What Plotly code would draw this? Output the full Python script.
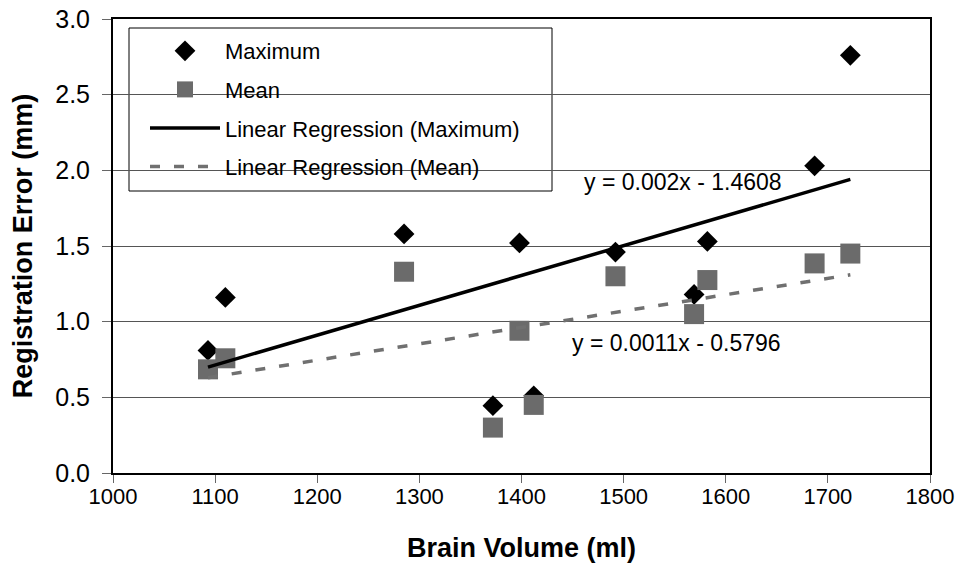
import plotly.graph_objects as go

# Data
brain_volume = [1093, 1110, 1285, 1372, 1398, 1412, 1492, 1569, 1582, 1687, 1722]
max_error = [0.81, 1.16, 1.58, 0.445, 1.52, 0.51, 1.46, 1.18, 1.53, 2.03, 2.76]
mean_error = [0.685, 0.758, 1.33, 0.30, 0.94, 0.45, 1.30, 1.05, 1.275, 1.385, 1.45]

# Trendline end points (as drawn in the chart)
reg_x = [1093, 1722]
reg_max_y = [0.70, 1.94]
reg_mean_y = [0.63, 1.31]

eq_max_label = "y = 0.002x - 1.4608"
eq_mean_label = "y = 0.0011x - 0.5796"
eq_max_pos = (1459, 1.92)
eq_mean_pos = (1447, 0.857)

x_ticks = [1000, 1100, 1200, 1300, 1400, 1500, 1600, 1700, 1800]
y_ticks = [0.0, 0.5, 1.0, 1.5, 2.0, 2.5, 3.0]

FONT = "Liberation Sans, Arial, sans-serif"

W, H = 956, 565
ML, MR, MT, MB = 113, 26, 19, 92
PW, PH = W - ML - MR, H - MT - MB


def px_to_paper(xp, yp):
    return (xp - ML) / PW, (H - MB - yp) / PH


fig = go.Figure()
fig.add_trace(go.Scatter(
    x=brain_volume, y=max_error, mode="markers", name="Maximum",
    legendgroup="a",
    marker=dict(symbol="diamond", size=16, color="#000000", line=dict(width=0)),
))
fig.add_trace(go.Scatter(
    x=brain_volume, y=mean_error, mode="markers", name="Mean",
    legendgroup="b",
    marker=dict(symbol="square", size=20, color="#6b6b6b", line=dict(width=0)),
))
fig.add_trace(go.Scatter(
    x=reg_x, y=reg_max_y, mode="lines", name="Linear Regression (Maximum)",
    legendgroup="c",
    line=dict(color="#000000", width=3.5),
))
fig.add_trace(go.Scatter(
    x=reg_x, y=reg_mean_y, mode="lines", name="Linear Regression (Mean)",
    legendgroup="d",
    line=dict(color="#707070", width=3.5, dash="10px,14px"),
))

fig.add_annotation(x=eq_max_pos[0], y=eq_max_pos[1], text=eq_max_label,
                   showarrow=False, xanchor="left", yanchor="middle",
                   font=dict(family=FONT, size=23, color="#000000"))
fig.add_annotation(x=eq_mean_pos[0], y=eq_mean_pos[1], text=eq_mean_label,
                   showarrow=False, xanchor="left", yanchor="middle",
                   font=dict(family=FONT, size=23, color="#000000"))

# legend frame
x0, y0 = px_to_paper(129, 191)
x1, y1 = px_to_paper(552, 28)
fig.add_shape(type="rect", xref="paper", yref="paper", x0=x0, y0=y0, x1=x1, y1=y1,
              line=dict(color="#000000", width=1), fillcolor="#ffffff", layer="between")

lx, ly = px_to_paper(145, 30)

fig.update_layout(
    width=W, height=H,
    margin=dict(l=ML, r=MR, t=MT, b=MB),
    plot_bgcolor="#ffffff", paper_bgcolor="#ffffff",
    font=dict(family=FONT, size=22, color="#000000"),
    showlegend=True,
    legend=dict(
        x=lx, y=ly, xanchor="left", yanchor="top",
        bgcolor="rgba(0,0,0,0)", borderwidth=0,
        font=dict(family=FONT, size=22, color="#000000"),
        traceorder="grouped", tracegroupgap=7, itemwidth=70,
    ),
    xaxis=dict(
        range=[1000, 1800], tickvals=x_ticks, ticktext=[str(v) for v in x_ticks],
        showgrid=False, zeroline=False, automargin=False,
        showline=True, linecolor="#000000", linewidth=2, mirror=True,
        ticks="outside", ticklen=8, tickcolor="#666666", tickwidth=1,
        tickfont=dict(family=FONT, size=22), ticklabelstandoff=-5,
        title=dict(text="<b>Brain Volume (ml)</b>", font=dict(family=FONT, size=27), standoff=30),
    ),
    yaxis=dict(
        range=[0, 3], tickvals=y_ticks, ticktext=[f"{v:.1f}" for v in y_ticks],
        showgrid=True, gridcolor="#555555", gridwidth=1, zeroline=False, automargin=False,
        showline=True, linecolor="#000000", linewidth=2, mirror=True,
        ticks="outside", ticklen=9, tickcolor="#666666", tickwidth=1,
        tickfont=dict(family=FONT, size=25), ticklabelstandoff=7,
        title=dict(text="<b>Registration Error (mm)</b>", font=dict(family=FONT, size=27), standoff=15),
    ),
)

fig.write_html("out.html", config={"displayModeBar": False},
               post_script="document.body.style.margin='0';")
